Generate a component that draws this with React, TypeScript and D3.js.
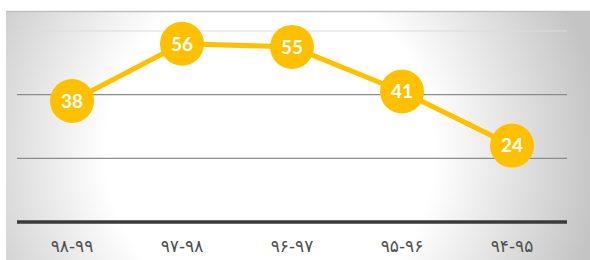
import React, { useEffect, useRef } from 'react';
import * as d3 from 'd3';

const categories = ['۹۸-۹۹', '۹۷-۹۸', '۹۶-۹۷', '۹۵-۹۶', '۹۴-۹۵'];
const values = [38, 56, 55, 41, 24];
const gridValues = [20, 40, 60];

const W = 590;
const H = 260;

const App = () => {
  const ref = useRef<SVGSVGElement>(null);

  useEffect(() => {
    const svg = d3.select(ref.current);
    svg.selectAll('*').remove();

    const margin = { top: 31, right: 23, bottom: 38, left: 17 };

    // soft radial background, brighter in the middle
    const grad = svg.append('defs').append('radialGradient')
      .attr('id', 'bg')
      .attr('gradientUnits', 'userSpaceOnUse')
      .attr('cx', 270).attr('cy', 150).attr('r', 330);
    grad.append('stop').attr('offset', '0%').attr('stop-color', '#ffffff');
    grad.append('stop').attr('offset', '50%').attr('stop-color', '#ffffff');
    grad.append('stop').attr('offset', '100%').attr('stop-color', '#c4c4c4');

    svg.append('rect')
      .attr('x', 6).attr('y', 11)
      .attr('width', W - 6).attr('height', H - 11)
      .attr('fill', 'url(#bg)');
    svg.append('line')
      .attr('x1', 6).attr('x2', W)
      .attr('y1', 11.5).attr('y2', 11.5)
      .attr('stroke', '#c0c0c0').attr('stroke-width', 1.5);

    const x = d3.scaleBand()
      .domain(categories)
      .range([margin.left, W - margin.right]);

    const y = d3.scaleLinear()
      .domain([0, 60])
      .range([H - margin.bottom, margin.top]);

    svg.selectAll('.grid')
      .data(gridValues)
      .enter()
      .append('line')
      .attr('x1', margin.left).attr('x2', W - margin.right)
      .attr('y1', (d) => y(d)).attr('y2', (d) => y(d))
      .attr('stroke', (d) => d === 60 ? '#dcdcdc' : '#8c8c8c')
      .attr('stroke-width', 1.2);

    svg.append('line')
      .attr('x1', margin.left).attr('x2', W - margin.right)
      .attr('y1', y(0)).attr('y2', y(0))
      .attr('stroke', '#3a3a3a').attr('stroke-width', 3.5);

    svg.selectAll('.xlabel')
      .data(categories)
      .enter()
      .append('text')
      .attr('x', (d) => x(d)! + x.bandwidth() / 2)
      .attr('y', 252)
      .attr('text-anchor', 'middle')
      .attr('direction', 'ltr')
      .attr('font-family', 'DejaVu Sans')
      .attr('font-size', 17)
      .attr('letter-spacing', 2)
      .attr('fill', '#505050')
      .text((d) => d);

    const pts = categories.map((c, i) => [x(c)! + x.bandwidth() / 2, y(values[i])] as [number, number]);

    svg.append('path')
      .attr('d', d3.line()(pts))
      .attr('fill', 'none')
      .attr('stroke', '#FFC000')
      .attr('stroke-width', 5)
      .attr('stroke-linejoin', 'round');

    const pt = svg.selectAll('.pt')
      .data(values)
      .enter()
      .append('g')
      .attr('transform', (d, i) => `translate(${pts[i][0]},${pts[i][1]})`);

    pt.append('circle')
      .attr('r', 22)
      .attr('fill', '#FFC000');

    pt.append('text')
      .attr('text-anchor', 'middle')
      .attr('dy', '0.36em')
      .attr('font-family', 'Lato')
      .attr('font-weight', 'bold')
      .attr('font-size', 19)
      .attr('fill', '#ffffff')
      .text((d) => d);
  }, []);

  return (
    <svg ref={ref} width={W} height={H} style={{ position: 'absolute', left: 0, top: 0 }} />
  );
};

export default App;
